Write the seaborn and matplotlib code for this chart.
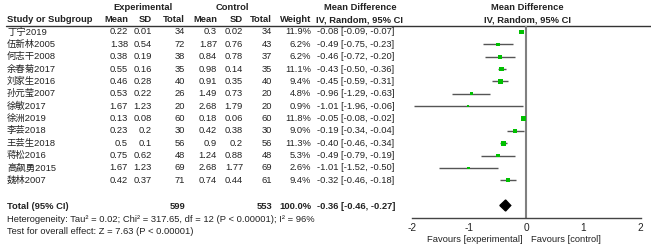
import numpy as np
import pandas as pd
import matplotlib
matplotlib.use("Agg")
import matplotlib.pyplot as plt
import seaborn as sns

# study data
studies = ["丁宁2019", "伍新林2005", "何志干2008", "余春菊2017", "刘家生2016",
           "孙元莹2007", "徐敏2017", "徐洲2019", "李芸2018", "王芸生2018",
           "蒋松2016", "高飙勇2015", "魏林2007"]
exp_mean = [0.22, 1.38, 0.38, 0.55, 0.46, 0.53, 1.67, 0.13, 0.23, 0.5, 0.75, 1.67, 0.42]
exp_sd = [0.01, 0.54, 0.19, 0.16, 0.28, 0.22, 1.23, 0.08, 0.2, 0.1, 0.62, 1.23, 0.37]
exp_n = [34, 72, 38, 35, 40, 26, 20, 60, 30, 56, 48, 69, 71]
ctl_mean = [0.3, 1.87, 0.84, 0.98, 0.91, 1.49, 2.68, 0.18, 0.42, 0.9, 1.24, 2.68, 0.74]
ctl_sd = [0.02, 0.76, 0.78, 0.14, 0.35, 0.73, 1.79, 0.06, 0.38, 0.2, 0.88, 1.77, 0.44]
ctl_n = [34, 43, 37, 35, 40, 20, 20, 60, 30, 56, 48, 69, 61]
weight = [11.9, 6.2, 6.2, 11.1, 9.4, 4.8, 0.9, 11.8, 9.0, 11.3, 5.3, 2.6, 9.4]
md = [-0.08, -0.49, -0.46, -0.43, -0.45, -0.96, -1.01, -0.05, -0.19, -0.40, -0.49, -1.01, -0.32]
lo = [-0.09, -0.75, -0.72, -0.50, -0.59, -1.29, -1.96, -0.08, -0.34, -0.46, -0.79, -1.52, -0.46]
hi = [-0.07, -0.23, -0.20, -0.36, -0.31, -0.63, -0.06, -0.02, -0.04, -0.34, -0.19, -0.50, -0.18]
total_md, total_lo, total_hi = -0.36, -0.46, -0.27
heterogeneity = "Heterogeneity: Tau\u00b2 = 0.02; Chi\u00b2 = 317.65, df = 12 (P < 0.00001); I\u00b2 = 96%"
overall = "Test for overall effect: Z = 7.63 (P < 0.00001)"
xticks = [-2, -1, 0, 1, 2]

sns.set_style("white")
plt.rcParams["font.family"] = ["Liberation Sans", "Noto Sans CJK SC"]
FS = 6.75
W, H = 651, 248

fig = plt.figure(figsize=(W / 100, H / 100), dpi=100)
# text layer in pixel coords (y down)
tx = fig.add_axes([0, 0, 1, 1])
tx.set_xlim(0, W)
tx.set_ylim(H, 0)
tx.axis("off")

row0, step = 32, 12.35
ys = [row0 + step * i for i in range(len(studies))]
y_total, y_het, y_test = 206.5, 219, 231
y_axis = 217.7

# headers
tx.text(143, 7.5, "Experimental", ha="center", va="center", fontsize=FS, fontweight="bold", color="#222")
tx.text(232, 7.5, "Control", ha="center", va="center", fontsize=FS, fontweight="bold", color="#222")
tx.text(360, 7.5, "Mean Difference", ha="center", va="center", fontsize=FS, fontweight="bold", color="#222")
tx.text(527, 7.5, "Mean Difference", ha="center", va="center", fontsize=FS, fontweight="bold", color="#222")
tx.text(7, 20, "Study or Subgroup", ha="left", va="center", fontsize=FS, fontweight="bold", color="#222")
for x, lab in [(128, "Mean"), (152, "SD"), (185, "Total"), (217, "Mean"),
               (243, "SD"), (272, "Total"), (311, "Weight")]:
    tx.text(x, 20, lab, ha="right", va="center", fontsize=FS, fontweight="bold", color="#222")
tx.text(360, 20, "IV, Random, 95% CI", ha="center", va="center", fontsize=FS, fontweight="bold", color="#222")
tx.text(527, 20, "IV, Random, 95% CI", ha="center", va="center", fontsize=FS, fontweight="bold", color="#222")
tx.plot([6, W], [25.5, 25.5], color="#333", lw=1)

# study rows
for i, y in enumerate(ys):
    tx.text(7, y, studies[i], ha="left", va="center", fontsize=FS, color="#222")
    cells = [(128, f"{exp_mean[i]:g}"), (152, f"{exp_sd[i]:g}"), (185, str(exp_n[i])),
             (217, f"{ctl_mean[i]:g}"), (243, f"{ctl_sd[i]:g}"), (272, str(ctl_n[i])),
             (311, f"{weight[i]:.1f}%")]
    for x, s in cells:
        tx.text(x, y, s, ha="right", va="center", fontsize=FS, color="#222")
    tx.text(317, y, f"{md[i]:.2f} [{lo[i]:.2f}, {hi[i]:.2f}]", ha="left", va="center",
            fontsize=FS, color="#222")

# totals
tx.text(7, y_total, "Total (95% CI)", ha="left", va="center", fontsize=FS, fontweight="bold", color="#222")
tx.text(185, y_total, str(sum(exp_n)), ha="right", va="center", fontsize=FS, fontweight="bold", color="#222")
tx.text(272, y_total, str(sum(ctl_n)), ha="right", va="center", fontsize=FS, fontweight="bold", color="#222")
tx.text(311, y_total, "100.0%", ha="right", va="center", fontsize=FS, fontweight="bold", color="#222")
tx.text(317, y_total, f"{total_md:.2f} [{total_lo:.2f}, {total_hi:.2f}]", ha="left", va="center",
        fontsize=FS, fontweight="bold", color="#222")
tx.text(7, y_het, heterogeneity, ha="left", va="center", fontsize=FS, color="#222")
tx.text(7, y_test, overall, ha="left", va="center", fontsize=FS, color="#222")

# forest axes: x in mean-difference units, y shares pixel rows
x_m2, x_p2 = 411.7, 640.7
ax = fig.add_axes([x_m2 / W, 0, (x_p2 - x_m2) / W, 1])
ax.set_xlim(-2, 2)
ax.set_ylim(H, 0)
ax.patch.set_alpha(0)
for s in ["top", "right", "left"]:
    ax.spines[s].set_visible(False)
ax.spines["bottom"].set_position(("data", y_axis))
ax.spines["bottom"].set_color("#444")
ax.spines["bottom"].set_linewidth(1)
ax.set_yticks([])
ax.set_xticks(xticks)
ax.set_xticklabels([str(t) for t in xticks])
ax.tick_params(axis="x", direction="inout", length=5, width=1, color="#444",
               labelsize=FS + 0.5, pad=1, labelcolor="#222")

ax.vlines(0, 25.5, y_axis, color="#808080", lw=1.5)

df = pd.DataFrame({"md": md, "lo": lo, "hi": hi, "y": ys, "weight": weight})
ax.hlines(df["y"], df["lo"], df["hi"], color="#555", lw=1)
sns.scatterplot(data=df, x="md", y="y", size="weight", sizes=(2, 12), marker="s",
                color="#00c000", edgecolor="none", legend=False, ax=ax, zorder=3)
ax.set_xlabel("")
ax.set_ylabel("")

dh = 5.5
ax.fill([total_lo, total_md, total_hi, total_md],
        [y_total - 1, y_total - 1 - dh, y_total - 1, y_total - 1 + dh], color="black")

tx.text(522.5, 239, "Favours [experimental]", ha="right", va="center", fontsize=FS, color="#222")
tx.text(531, 239, "Favours [control]", ha="left", va="center", fontsize=FS, color="#222")

fig.savefig("out.png", dpi=100)
